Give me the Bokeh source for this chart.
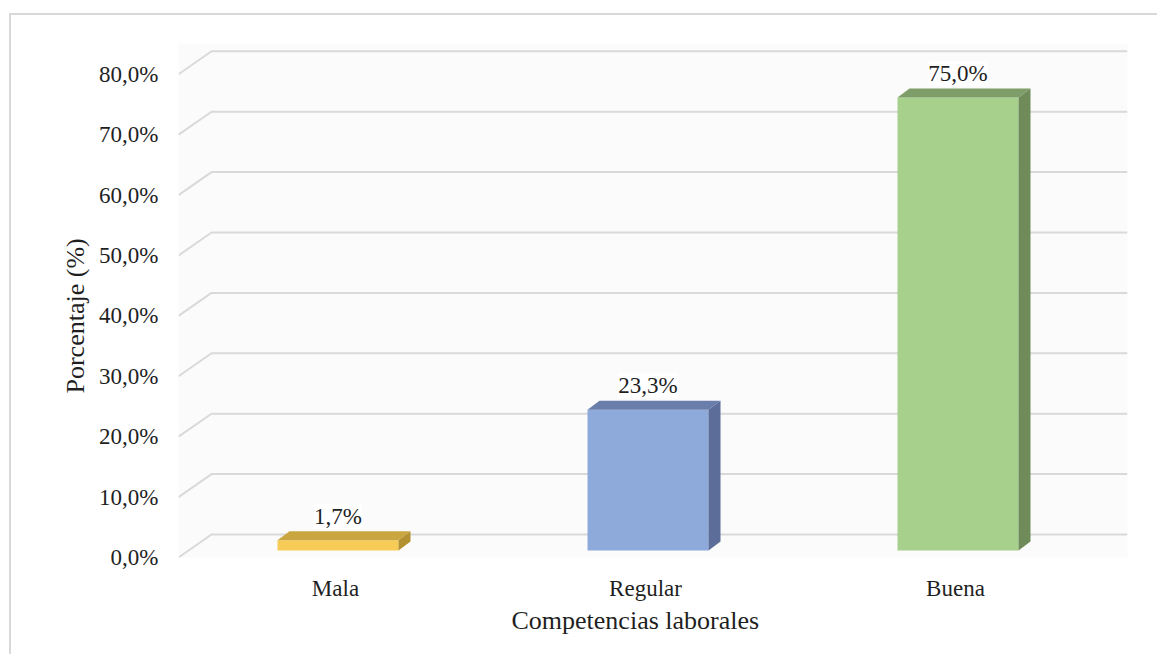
from bokeh.plotting import figure
from bokeh.models import Range1d, FixedTicker, ColumnDataSource, LabelSet, Title
from bokeh.embed import file_html
from bokeh.resources import INLINE

# --- data -------------------------------------------------------------
categorias = ["Mala", "Regular", "Buena"]
porcentajes = [1.7, 23.3, 75.0]
etiquetas = ["1,7%", "23,3%", "75,0%"]
ticks_y = [0, 10, 20, 30, 40, 50, 60, 70, 80]
ticks_y_texto = ["0,0%", "10,0%", "20,0%", "30,0%", "40,0%", "50,0%",
                 "60,0%", "70,0%", "80,0%"]

color_frente = ["#f7cc56", "#8eaadb", "#a8d08d"]
color_techo = ["#c9a640", "#6a7eab", "#7f9d68"]
color_lado = ["#b39130", "#5b6d98", "#6e8b59"]

# --- page geometry (px, page coordinates) -----------------------------
PAGE_W, PAGE_H = 1161, 664
BOX_X, BOX_Y, BOX_LW = 9, 13, 2        # chart-area border (left/top edges)
OFFX, OFFY = BOX_X + BOX_LW, BOX_Y + BOX_LW
SLACK_W, SLACK_H = 2, 8                # keep the page from overflowing the window
W, H = PAGE_W - OFFX - SLACK_W, PAGE_H - OFFY - SLACK_H

FRAME_L, FRAME_R, FRAME_T, FRAME_B = 178, 1127, 43, 557   # page px
UX = 310.0                             # px per category unit
UY = 6.04                              # px per percentage point
X_FIRST = 335                          # page px of first category
x0 = 1 - (X_FIRST - FRAME_L) / UX
x1 = 1 + (FRAME_R - X_FIRST) / UX
ytop = (FRAME_B - FRAME_T) / UY

def dx(px):
    return px / UX

def dy(px):
    return px / UY

FONT = "Liberation Serif"
TXT = "#1f1f1f"
BORDER = "#d9d9d9"

p = figure(width=W, height=H, x_range=Range1d(x0, x1), y_range=Range1d(0, ytop),
           output_backend="svg", toolbar_location=None,
           min_border_left=FRAME_L - OFFX,
           min_border_right=PAGE_W - SLACK_W - FRAME_R,
           min_border_top=FRAME_T - OFFY,
           min_border_bottom=PAGE_H - SLACK_H - FRAME_B)
# light chart-area edge on the left and top, drawn outside the canvas
p.styles = {"margin-left": f"{OFFX}px", "margin-top": f"{OFFY}px",
            "box-shadow": f"-{BOX_LW}px -{BOX_LW}px 0 0 {BORDER}"}
p.background_fill_color = "#fbfbfb"
p.border_fill_color = "white"
p.outline_line_color = None
p.grid.visible = False

# axes
p.yaxis.ticker = FixedTicker(ticks=ticks_y)
p.yaxis.major_label_overrides = {t: s for t, s in zip(ticks_y, ticks_y_texto)}
p.xaxis.ticker = FixedTicker(ticks=[1, 2, 3])
p.xaxis.major_label_overrides = {i + 1: c for i, c in enumerate(categorias)}
for ax in (p.xaxis, p.yaxis):
    ax.axis_line_color = None
    ax.major_tick_line_color = None
    ax.minor_tick_line_color = None
    ax.major_label_text_font = FONT
    ax.major_label_text_font_size = "23px"
    ax.major_label_text_color = TXT
p.yaxis.major_label_standoff = 14
p.xaxis.major_label_standoff = 12

# axis titles
p.add_layout(Title(text="Porcentaje (%)", align="left", offset=164, standoff=14,
                   text_font=FONT, text_font_size="26px", text_font_style="normal",
                   text_color=TXT), "left")
p.add_layout(Title(text="Competencias laborales", align="left", offset=333, standoff=0,
                   text_font=FONT, text_font_size="26px", text_font_style="normal",
                   text_color=TXT), "below")

# back-wall gridlines with the 3-D floor diagonal on the left
BX, BY = dx(33), dy(23)
p.multi_line(xs=[[x0, x0 + BX, x1] for _ in ticks_y],
             ys=[[t, t + BY, t + BY] for t in ticks_y],
             line_color="#d9d9d9", line_width=2)

# 3-D bars: front face, top face, right side face
OX, OY = dx(2.5), dy(7)                # front face position inside the depth
HW = dx(60.5)                          # half width of the front face
DX, DY = dx(12), dy(9)                 # bar depth
xc = [i + 1 + OX for i in range(len(categorias))]
left = [c - HW for c in xc]
right = [c + HW for c in xc]
top = [v + OY for v in porcentajes]

p.quad(left=left, right=right, bottom=[OY] * len(xc), top=top,
       fill_color=color_frente, line_color=None)
p.patches(xs=[[l, r, r + DX, l + DX] for l, r in zip(left, right)],
          ys=[[t, t, t + DY, t + DY] for t in top],
          fill_color=color_techo, line_color=None)
p.patches(xs=[[r, r + DX, r + DX, r] for r in right],
          ys=[[OY, OY + DY, t + DY, t] for t in top],
          fill_color=color_lado, line_color=None)

src = ColumnDataSource(dict(x=xc, y=top, t=etiquetas))
p.add_layout(LabelSet(x="x", y="y", text="t", source=src, y_offset=24,
                      text_align="center", text_baseline="middle",
                      text_font=FONT, text_font_size="23px", text_color=TXT,
                      background_fill_color="white"))

open("out.html", "w").write(file_html(p, INLINE))
